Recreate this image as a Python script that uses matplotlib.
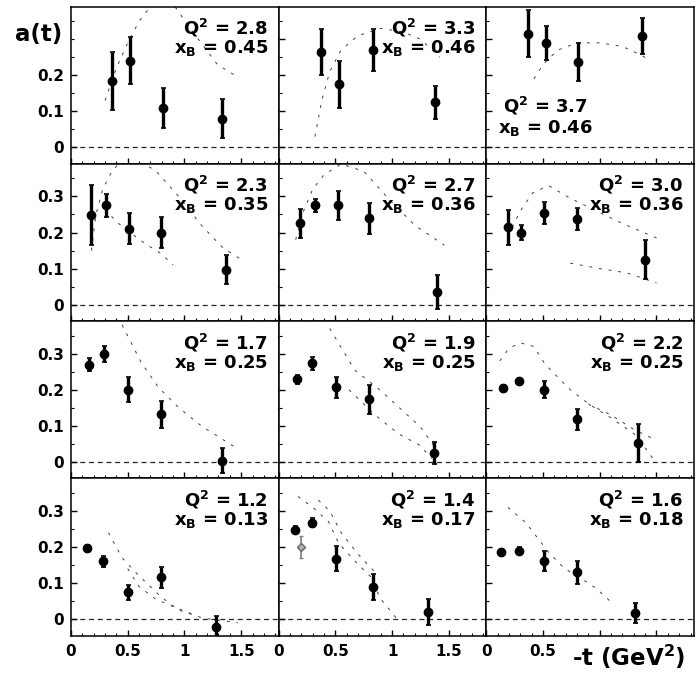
import numpy as np
import matplotlib
matplotlib.use("Agg")
import matplotlib.pyplot as plt
from matplotlib.ticker import MultipleLocator

plt.rcParams['font.family'] = 'DejaVu Sans'
plt.rcParams['font.weight'] = 'bold'
plt.rcParams['mathtext.fontset'] = 'dejavusans'

# --- dados (linhas de cima para baixo, colunas da esq. p/ dir.) ---
q2_vals = ["2.8", "3.3", "3.7", "2.3", "2.7", "3.0", "1.7", "1.9", "2.2", "1.2", "1.4", "1.6"]
xb_vals = ["0.45", "0.46", "0.46", "0.35", "0.36", "0.36", "0.25", "0.25", "0.25", "0.13", "0.17", "0.18"]

t_pts = [
    [0.36, 0.52, 0.81, 1.33],
    [0.37, 0.53, 0.83, 1.38],
    [0.37, 0.53, 0.81, 1.37],
    [0.18, 0.31, 0.51, 0.79, 1.37],
    [0.19, 0.32, 0.52, 0.80, 1.40],
    [0.19, 0.31, 0.51, 0.80, 1.40],
    [0.155, 0.29, 0.50, 0.79, 1.33],
    [0.16, 0.29, 0.51, 0.80, 1.37],
    [0.15, 0.29, 0.51, 0.80, 1.34],
    [0.14, 0.28, 0.50, 0.79, 1.28],
    [0.14, 0.29, 0.51, 0.83, 1.32],
    [0.13, 0.29, 0.51, 0.80, 1.31],
]
a_pts = [
    [0.185, 0.24, 0.11, 0.08],
    [0.265, 0.175, 0.27, 0.125],
    [0.315, 0.29, 0.237, 0.31],
    [0.248, 0.275, 0.21, 0.20, 0.097],
    [0.226, 0.275, 0.275, 0.24, 0.035],
    [0.214, 0.20, 0.255, 0.237, 0.125],
    [0.27, 0.30, 0.20, 0.132, 0.003],
    [0.229, 0.273, 0.207, 0.174, 0.025],
    [0.204, 0.223, 0.20, 0.118, 0.052],
    [0.196, 0.16, 0.074, 0.116, -0.022],
    [0.248, 0.267, 0.168, 0.09, 0.02],
    [0.185, 0.19, 0.162, 0.13, 0.017],
]
err_pts = [
    [0.08, 0.065, 0.055, 0.055],
    [0.063, 0.065, 0.058, 0.045],
    [0.065, 0.048, 0.053, 0.05],
    [0.083, 0.033, 0.043, 0.044, 0.04],
    [0.04, 0.018, 0.04, 0.043, 0.047],
    [0.048, 0.02, 0.03, 0.03, 0.053],
    [0.017, 0.022, 0.035, 0.037, 0.035],
    [0.012, 0.017, 0.029, 0.04, 0.03],
    [0.01, 0.01, 0.023, 0.03, 0.052],
    [0.01, 0.015, 0.021, 0.029, 0.03],
    [0.01, 0.012, 0.034, 0.036, 0.037],
    [0.01, 0.01, 0.028, 0.032, 0.028],
]

# ponto cinza extra no painel Q2=1.4
grey_t = [0.20]
grey_a = [0.20]
grey_err = [0.03]

# curvas de modelo (tracejadas) por painel: lista de (t, a)
curves = [
    [([0.30, 0.40, 0.50, 0.60, 0.70, 0.85, 1.05, 1.29, 1.47],
      [0.13, 0.22, 0.29, 0.35, 0.39, 0.42, 0.33, 0.23, 0.195])],
    [([0.32, 0.38, 0.45, 0.55, 0.70, 0.90, 1.10, 1.25, 1.42],
      [0.03, 0.13, 0.21, 0.27, 0.31, 0.33, 0.32, 0.30, 0.25])],
    [([0.42, 0.50, 0.63, 0.80, 1.00, 1.20, 1.37, 1.45],
      [0.19, 0.23, 0.27, 0.29, 0.29, 0.28, 0.255, 0.24])],
    [([0.18, 0.22, 0.28, 0.36, 0.45, 0.60, 0.75, 0.95, 1.15, 1.33, 1.50],
      [0.15, 0.25, 0.32, 0.37, 0.40, 0.40, 0.37, 0.30, 0.22, 0.16, 0.125]),
     ([0.30, 0.40, 0.52, 0.65, 0.80, 0.90],
      [0.265, 0.23, 0.20, 0.17, 0.14, 0.11])],
    [([0.15, 0.22, 0.30, 0.40, 0.55, 0.75, 0.98, 1.20, 1.46],
      [0.18, 0.26, 0.32, 0.36, 0.39, 0.37, 0.29, 0.22, 0.165])],
    [([0.19, 0.30, 0.41, 0.55, 0.74, 0.97, 1.20, 1.50],
      [0.19, 0.26, 0.31, 0.33, 0.295, 0.26, 0.225, 0.185]),
     ([0.74, 1.00, 1.24, 1.50],
      [0.115, 0.10, 0.088, 0.06])],
    [([0.45, 0.62, 0.77, 0.95, 1.16, 1.47],
      [0.38, 0.275, 0.207, 0.15, 0.097, 0.036])],
    [([0.45, 0.67, 0.89, 1.10, 1.25, 1.40],
      [0.37, 0.255, 0.20, 0.14, 0.097, 0.03]),
     ([0.62, 0.85, 1.06, 1.24, 1.35],
      [0.20, 0.13, 0.077, 0.047, 0.01])],
    [([0.12, 0.20, 0.30, 0.42, 0.52, 0.74, 0.92, 1.09, 1.32, 1.49],
      [0.28, 0.315, 0.33, 0.32, 0.27, 0.20, 0.157, 0.124, 0.074, 0.0]),
     ([0.90, 1.10, 1.30, 1.50],
      [0.16, 0.13, 0.09, 0.06])],
    [([0.33, 0.45, 0.60, 0.80, 0.95, 1.16, 1.47],
      [0.24, 0.17, 0.12, 0.06, 0.025, 0.003, -0.01]),
     ([0.50, 0.60, 0.75, 0.90, 1.10],
      [0.14, 0.09, 0.055, 0.035, 0.01])],
    [([0.17, 0.30, 0.44, 0.53, 0.69, 0.82, 0.89, 1.07],
      [0.34, 0.31, 0.27, 0.21, 0.155, 0.115, 0.06, -0.01]),
     ([0.35, 0.45, 0.55, 0.70, 0.85],
      [0.33, 0.30, 0.24, 0.18, 0.13])],
    [([0.19, 0.35, 0.44, 0.55, 0.69, 0.85, 0.97, 1.09],
      [0.31, 0.267, 0.23, 0.185, 0.14, 0.11, 0.085, 0.05])],
]

fig, axes = plt.subplots(4, 3, figsize=(6.96, 6.77), dpi=100, sharex=False, sharey=False)
fig.subplots_adjust(left=0.102, right=0.997, top=0.99, bottom=0.061, wspace=0, hspace=0)

for i, ax in enumerate(axes.flat):
    row, col = divmod(i, 3)
    ax.set_xlim(0, 1.83)
    ax.set_ylim(-0.046, 0.39)

    ax.axhline(0, color='0.15', lw=0.9, ls=(0, (4, 3)), zorder=1)
    for ct, ca in curves[i]:
        ax.plot(ct, ca, color='0.25', lw=0.7, ls=(0, (3, 7)), zorder=1)

    ax.errorbar(t_pts[i], a_pts[i], yerr=err_pts[i], fmt='o', color='black',
                ms=6, elinewidth=2.4, capsize=1.8, capthick=1.2, zorder=3)
    if i == 10:
        ax.errorbar(grey_t, grey_a, yerr=grey_err, fmt='D', color='0.5', mfc='0.7', mec='0.4',
                    ms=4.5, elinewidth=1.2, capsize=1.5, zorder=2)

    if i == 2:
        ax.text(0.285, 0.33, r'$\mathbf{Q^2}$ = ' + q2_vals[i], transform=ax.transAxes,
                ha='center', va='baseline', fontsize=13, fontweight='bold')
        ax.text(0.285, 0.20, r'$\mathbf{x_B}$ = ' + xb_vals[i], transform=ax.transAxes,
                ha='center', va='baseline', fontsize=13, fontweight='bold')
    else:
        ax.text(0.95, 0.823, r'$\mathbf{Q^2}$ = ' + q2_vals[i], transform=ax.transAxes,
                ha='right', va='baseline', fontsize=13, fontweight='bold')
        ax.text(0.95, 0.705, r'$\mathbf{x_B}$ = ' + xb_vals[i], transform=ax.transAxes,
                ha='right', va='baseline', fontsize=13, fontweight='bold')

    ax.xaxis.set_major_locator(MultipleLocator(0.5))
    ax.xaxis.set_minor_locator(MultipleLocator(0.1))
    ax.yaxis.set_major_locator(MultipleLocator(0.1))
    ax.yaxis.set_minor_locator(MultipleLocator(0.05))
    ax.tick_params(which='both', direction='in', top=False, right=False, labelsize=11)
    ax.tick_params(which='major', length=4.5, width=1)
    ax.tick_params(which='minor', length=2.5, width=0.8)
    ax.tick_params(axis='x', pad=6)
    ax.tick_params(axis='y', pad=5)
    for sp in ax.spines.values():
        sp.set_linewidth(1.1)

    if col == 0:
        yt = [0, 0.1, 0.2] if row == 0 else [0, 0.1, 0.2, 0.3]
        ax.set_yticks(yt)
        ax.set_yticklabels(['0' if v == 0 else f'{v:.1f}' for v in yt], fontweight='bold')
    else:
        ax.set_yticks([0, 0.1, 0.2, 0.3])
        ax.set_yticklabels([])

    if row == 3:
        xt = [0, 0.5] if col == 2 else [0, 0.5, 1, 1.5]
        ax.set_xticks([0, 0.5, 1, 1.5])
        labs = ['0', '0.5', '1', '1.5']
        if col == 2:
            labs = ['0', '0.5', '', '']
        ax.set_xticklabels(labs, fontweight='bold')
    else:
        ax.set_xticks([0, 0.5, 1, 1.5])
        ax.set_xticklabels([])

fig.text(0.022, 0.949, 'a(t)', fontsize=16.5, fontweight='bold', ha='left', va='center')
fig.text(0.985, 0.03, r'-t (GeV$^{\mathbf{2}}$)', fontsize=16.5, fontweight='bold', ha='right', va='center')

fig.savefig('out.png', dpi=100)
